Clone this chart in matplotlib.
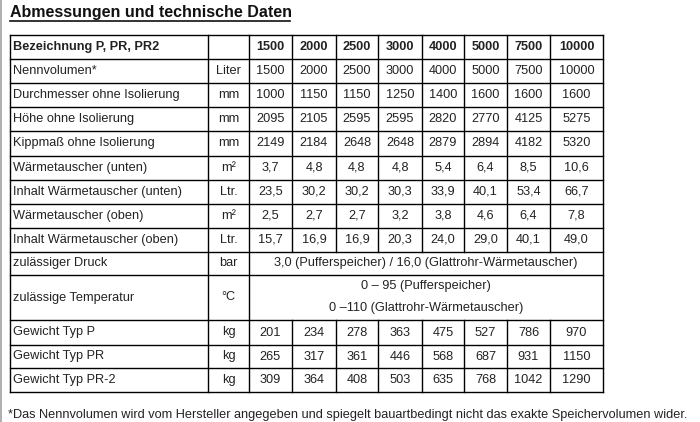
import matplotlib
matplotlib.use("Agg")
import matplotlib.pyplot as plt

title = "Abmessungen und technische Daten"
header_label = "Bezeichnung P, PR, PR2"
models = ["1500", "2000", "2500", "3000", "4000", "5000", "7500", "10000"]
labels = ["Nennvolumen*", "Durchmesser ohne Isolierung", "Höhe ohne Isolierung",
          "Kippmaß ohne Isolierung", "Wärmetauscher (unten)", "Inhalt Wärmetauscher (unten)",
          "Wärmetauscher (oben)", "Inhalt Wärmetauscher (oben)"]
units = ["Liter", "mm", "mm", "mm", "m²", "Ltr.", "m²", "Ltr."]
values = [
    ["1500", "2000", "2500", "3000", "4000", "5000", "7500", "10000"],
    ["1000", "1150", "1150", "1250", "1400", "1600", "1600", "1600"],
    ["2095", "2105", "2595", "2595", "2820", "2770", "4125", "5275"],
    ["2149", "2184", "2648", "2648", "2879", "2894", "4182", "5320"],
    ["3,7", "4,8", "4,8", "4,8", "5,4", "6,4", "8,5", "10,6"],
    ["23,5", "30,2", "30,2", "30,3", "33,9", "40,1", "53,4", "66,7"],
    ["2,5", "2,7", "2,7", "3,2", "3,8", "4,6", "6,4", "7,8"],
    ["15,7", "16,9", "16,9", "20,3", "24,0", "29,0", "40,1", "49,0"],
]
druck = ("zulässiger Druck", "bar", "3,0 (Pufferspeicher) / 16,0 (Glattrohr-Wärmetauscher)")
temp = ("zulässige Temperatur", "°C", "0 – 95 (Pufferspeicher)", "0 –110 (Glattrohr-Wärmetauscher)")
w_labels = ["Gewicht Typ P", "Gewicht Typ PR", "Gewicht Typ PR-2"]
w_values = [
    ["201", "234", "278", "363", "475", "527", "786", "970"],
    ["265", "317", "361", "446", "568", "687", "931", "1150"],
    ["309", "364", "408", "503", "635", "768", "1042", "1290"],
]
footnote = "*Das Nennvolumen wird vom Hersteller angegeben und spiegelt bauartbedingt nicht das exakte Speichervolumen wider."

plt.rcParams['font.family'] = ['Liberation Sans', 'DejaVu Sans']
fig = plt.figure(figsize=(7, 4.22), dpi=100)
ax = fig.add_axes([0, 0, 1, 1])
ax.set_xlim(0, 700); ax.set_ylim(422, 0); ax.axis('off')

fs = 9.2
col_x = [10, 208, 249, 292, 336, 378, 422, 464, 507, 550, 603]
rows_y = [35 + i * 24.1 for i in range(10)] + [275, 320, 345, 368, 392]
top, bot = rows_y[0], rows_y[-1]

ax.add_patch(plt.Rectangle((0, 0), 2, 422, color='#b0b0b0', lw=0))
ax.text(10, 12, title, fontsize=11.5, fontweight='bold', va='center', ha='left', color='#111')
tw = 290
ax.plot([10, tw], [21, 21], color='#111', lw=1.2)

lc = 'black'
for y in rows_y:
    ax.plot([col_x[0], col_x[-1]], [y, y], color=lc, lw=1)
ax.plot([col_x[0]] * 2, [top, bot], color=lc, lw=1)
ax.plot([col_x[-1]] * 2, [top, bot], color=lc, lw=1)
ax.plot([col_x[1]] * 2, [top, bot], color=lc, lw=1)
ax.plot([col_x[2]] * 2, [top, bot], color=lc, lw=1)
for x in col_x[3:-1]:
    ax.plot([x, x], [top, rows_y[9]], color=lc, lw=1)
    ax.plot([x, x], [rows_y[11], bot], color=lc, lw=1)

def cy(i):
    return (rows_y[i] + rows_y[i + 1]) / 2

def mx(j):
    return (col_x[j + 2] + col_x[j + 3]) / 2

tc = '#222'
ax.text(13, cy(0), header_label, fontsize=fs, fontweight='bold', va='center', color=tc)
for j, m in enumerate(models):
    ax.text(mx(j), cy(0), m, fontsize=fs, fontweight='bold', va='center', ha='center', color=tc)
for i, (lab, u, vals) in enumerate(zip(labels, units, values)):
    r = i + 1
    ax.text(13, cy(r), lab, fontsize=fs, va='center', color=tc)
    ax.text((col_x[1] + col_x[2]) / 2, cy(r), u, fontsize=fs, va='center', ha='center', color=tc)
    for j, v in enumerate(vals):
        ax.text(mx(j), cy(r), v, fontsize=fs, va='center', ha='center', color=tc)
span = (col_x[2] + col_x[-1]) / 2
ucx = (col_x[1] + col_x[2]) / 2
ax.text(13, cy(9), druck[0], fontsize=fs, va='center', color=tc)
ax.text(ucx, cy(9), druck[1], fontsize=fs, va='center', ha='center', color=tc)
ax.text(span, cy(9), druck[2], fontsize=fs, va='center', ha='center', color=tc)
ax.text(13, cy(10), temp[0], fontsize=fs, va='center', color=tc)
ax.text(ucx, cy(10), temp[1], fontsize=fs, va='center', ha='center', color=tc)
ax.text(span, cy(10) - 11, temp[2], fontsize=fs, va='center', ha='center', color=tc)
ax.text(span, cy(10) + 11, temp[3], fontsize=fs, va='center', ha='center', color=tc)
for i, (lab, vals) in enumerate(zip(w_labels, w_values)):
    r = 11 + i
    ax.text(13, cy(r), lab, fontsize=fs, va='center', color=tc)
    ax.text(ucx, cy(r), "kg", fontsize=fs, va='center', ha='center', color=tc)
    for j, v in enumerate(vals):
        ax.text(mx(j), cy(r), v, fontsize=fs, va='center', ha='center', color=tc)
ax.text(8, 415, footnote, fontsize=fs, va='center', ha='left', color=tc)
fig.savefig("out.png", dpi=100)
